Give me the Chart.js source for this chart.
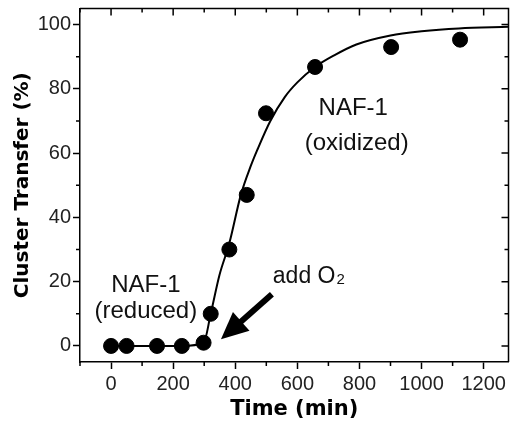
<!DOCTYPE html>
<html>
<head>
<meta charset="utf-8">
<script src="https://cdn.jsdelivr.net/npm/chart.js@4"></script>
<style>
  body { margin: 0; background: #fff; }
  #wrap { width: 517px; height: 425px; position: relative; }
</style>
</head>
<body>
<div id="wrap"><canvas id="clusterChart"></canvas></div>
<script>
// measured points
const timePts = [0, 50, 148, 228, 298, 321, 381, 437, 499, 657, 902, 1124];
const transferPts = [0, 0, 0, 0, 1, 10, 30, 47, 72.4, 86.8, 93, 95.3];

// fitted curve
const fitTime = [0, 228, 298, 321, 349, 381, 418, 450, 471, 513, 560, 600, 657, 720, 790, 900, 1000, 1120, 1280];
const fitValue = [0, 0, 1, 10, 22, 32, 47, 56, 61, 70, 77.5, 82, 86.8, 90.5, 93.8, 96.6, 97.9, 98.8, 99.3];

const xTickVals = [0, 200, 400, 600, 800, 1000, 1200];
const yTickVals = [0, 20, 40, 60, 80, 100];

// text labels placed in data units
const notes = [
    { text: 'NAF-1', x: 112, y: 18.7 },
    { text: '(reduced)', x: 112, y: 10.6 },
    { text: 'NAF-1', x: 780, y: 73.9 },
    { text: '(oxidized)', x: 791, y: 63.1 }
];

const tickFont = "'Liberation Sans', Arial, sans-serif";
const titleFont = "'DejaVu Sans', sans-serif";

// minor ticks, mirrored ticks on top/right, frame, text and arrow
const decorations = {
    id: 'decorations',
    afterDraw(chart) {
        const { ctx, chartArea: a, scales: { x, y } } = chart;
        ctx.save();
        ctx.strokeStyle = '#000';
        ctx.lineWidth = 1.5;
        ctx.beginPath();
        ctx.moveTo(a.left, a.top);
        ctx.lineTo(a.right, a.top);
        ctx.lineTo(a.right, a.bottom);
        ctx.stroke();

        ctx.beginPath();
        for (let v = -100; v <= 1280; v += 100) {
            const px = x.getPixelForValue(v);
            const major = v % 200 === 0;
            const len = major ? 7 : 4;
            if (!major) {
                ctx.moveTo(px, a.bottom);
                ctx.lineTo(px, a.bottom + len);
            }
            ctx.moveTo(px, a.top);
            ctx.lineTo(px, a.top + len);
        }
        for (let v = 0; v <= 100; v += 10) {
            const py = y.getPixelForValue(v);
            const major = v % 20 === 0;
            const len = major ? 7 : 4;
            if (!major) {
                ctx.moveTo(a.left, py);
                ctx.lineTo(a.left - len, py);
            }
            ctx.moveTo(a.right, py);
            ctx.lineTo(a.right - len, py);
        }
        ctx.stroke();

        ctx.fillStyle = '#111';
        ctx.textAlign = 'center';
        ctx.textBaseline = 'middle';
        ctx.font = '24px ' + tickFont;
        notes.forEach(n => {
            ctx.fillText(n.text, x.getPixelForValue(n.x), y.getPixelForValue(n.y));
        });

        // add O2
        ctx.textAlign = 'left';
        ctx.textBaseline = 'alphabetic';
        ctx.font = '23px ' + tickFont;
        const ax = x.getPixelForValue(521);
        const ay = y.getPixelForValue(19.7);
        ctx.fillText('add O', ax, ay);
        const w = ctx.measureText('add O').width;
        ctx.font = '15px ' + tickFont;
        ctx.fillText('2', ax + w + 1, ay + 1);

        // arrow
        const tx = x.getPixelForValue(518), ty = y.getPixelForValue(16.1);
        const hx = x.getPixelForValue(354), hy = y.getPixelForValue(2.1);
        const dx = hx - tx, dy = hy - ty;
        const L = Math.hypot(dx, dy);
        const ux = dx / L, uy = dy / L;
        const headLen = 27, headHalf = 12.5;
        const bx = hx - ux * headLen, by = hy - uy * headLen;
        ctx.fillStyle = '#000';
        ctx.strokeStyle = '#000';
        ctx.lineWidth = 6;
        ctx.lineCap = 'butt';
        ctx.beginPath();
        ctx.moveTo(tx, ty);
        ctx.lineTo(bx + ux * 2, by + uy * 2);
        ctx.stroke();
        ctx.beginPath();
        ctx.moveTo(hx, hy);
        ctx.lineTo(bx - uy * headHalf, by + ux * headHalf);
        ctx.lineTo(bx + uy * headHalf, by - ux * headHalf);
        ctx.closePath();
        ctx.fill();
        ctx.restore();
    }
};

new Chart(document.getElementById('clusterChart'), {
    type: 'scatter',
    data: {
        datasets: [{
            type: 'line',
            label: 'fit',
            data: fitTime.map((t, i) => ({ x: t, y: fitValue[i] })),
            borderColor: '#000',
            borderWidth: 2,
            pointRadius: 0,
            cubicInterpolationMode: 'monotone',
            fill: false,
            order: 2
        }, {
            label: 'NAF-1',
            data: timePts.map((t, i) => ({ x: t, y: transferPts[i] })),
            backgroundColor: '#000',
            borderColor: '#000',
            pointRadius: 7.5,
            order: 1
        }]
    },
    options: {
        responsive: true,
        maintainAspectRatio: false,
        animation: false,
        layout: { padding: { top: 8, right: 2, left: 0, bottom: 0 } },
        plugins: {
            legend: { display: false },
            tooltip: { enabled: false }
        },
        scales: {
            x: {
                type: 'linear',
                min: -100,
                max: 1280,
                afterBuildTicks: s => { s.ticks = xTickVals.map(v => ({ value: v })); },
                afterFit: s => { s.height = 63; s.paddingLeft = 0; s.paddingRight = 0; },
                grid: { display: true, drawOnChartArea: false, tickLength: 7, tickColor: '#000', tickWidth: 1.5 },
                border: { display: true, color: '#000', width: 1.5 },
                ticks: { color: '#222', font: { family: tickFont, size: 20 }, padding: 3, maxRotation: 0, callback: v => String(v) },
                title: {
                    display: true,
                    text: 'Time (min)',
                    color: '#000',
                    font: { family: titleFont, size: 21, weight: 'bold' },
                    padding: { top: 0, bottom: 3 }
                }
            },
            y: {
                min: -5,
                max: 105,
                afterBuildTicks: s => { s.ticks = yTickVals.map(v => ({ value: v })); },
                afterFit: s => { s.width = 80; s.paddingTop = 0; s.paddingBottom = 0; },
                grid: { display: true, drawOnChartArea: false, tickLength: 7, tickColor: '#000', tickWidth: 1.5 },
                border: { display: true, color: '#000', width: 1.5 },
                ticks: { color: '#222', font: { family: tickFont, size: 20 }, padding: 2, callback: v => String(v) },
                title: {
                    display: true,
                    text: 'Cluster Transfer (%)',
                    color: '#000',
                    font: { family: titleFont, size: 20, weight: 'bold' },
                    padding: { top: 11, bottom: 0 }
                }
            }
        }
    },
    plugins: [decorations]
});
</script>
</body>
</html>
